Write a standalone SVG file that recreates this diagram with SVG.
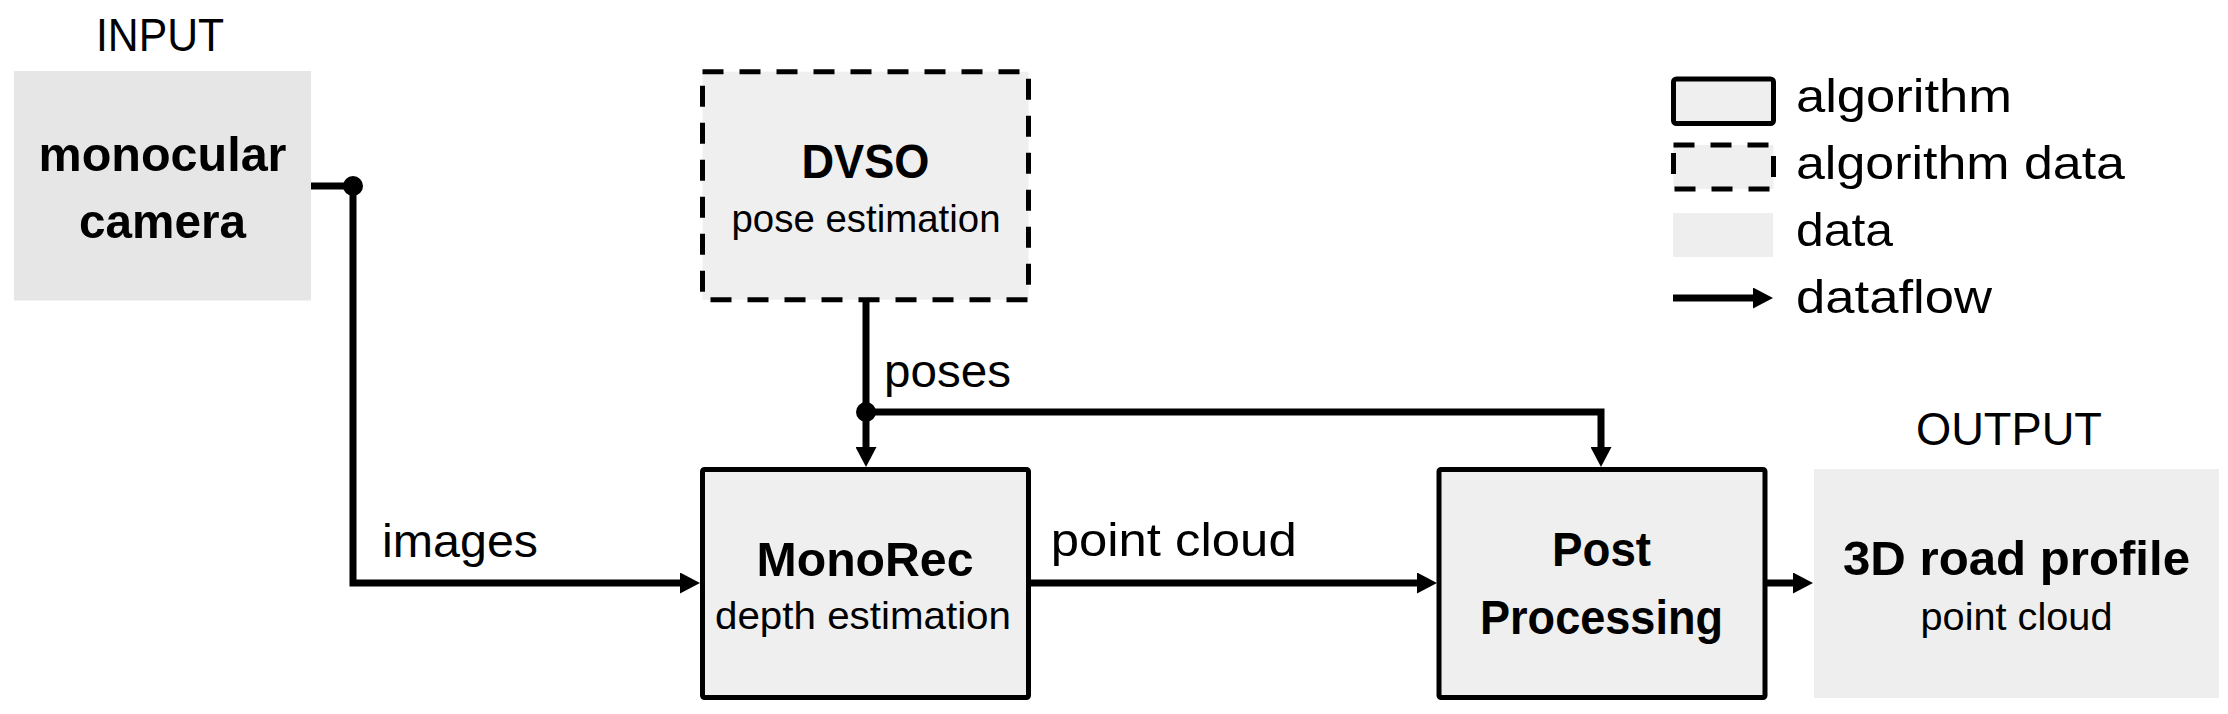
<svg xmlns="http://www.w3.org/2000/svg" width="2228" height="714" viewBox="0 0 2228 714">
<style>
.t{font-family:"Liberation Sans",Arial,sans-serif;fill:#000}
.r{font-size:47px}
.b{font-size:49px;font-weight:bold}
.s{font-size:39px}
.m{text-anchor:middle}
.alg{fill:#efefef;stroke:#000;stroke-width:5}
.dash{fill:#efefef;stroke:#000;stroke-width:5;stroke-dasharray:21 16}
.data{fill:#eeeeee;stroke:none}
.con{fill:none;stroke:#000;stroke-width:7;stroke-linejoin:miter}
</style>
<defs>
<marker id="ah" markerUnits="userSpaceOnUse" markerWidth="20" markerHeight="21" refX="0" refY="10.5" orient="auto">
<path d="M0,0 L20,10.5 L0,21 z" fill="#000"/>
</marker>
</defs>
<rect width="2228" height="714" fill="#fff"/>

<g id="input-label"><text class="t r m" x="160" y="51" textLength="128" lengthAdjust="spacingAndGlyphs">INPUT</text></g>

<g id="camera">
<rect x="14" y="71" width="297" height="229.5" fill="#e6e6e6"/>
<text class="t b m" x="162.5" y="170.5" textLength="248" lengthAdjust="spacingAndGlyphs">monocular</text>
<text class="t b m" x="162.5" y="238" textLength="167" lengthAdjust="spacingAndGlyphs">camera</text>
</g>

<g id="dvso">
<rect class="dash" x="702.5" y="71.7" width="326" height="228"/>
<text class="t b m" x="865.5" y="177.5" textLength="128" lengthAdjust="spacingAndGlyphs">DVSO</text>
<text class="t s m" x="866" y="232" textLength="269" lengthAdjust="spacingAndGlyphs">pose estimation</text>
</g>

<g id="monorec">
<rect class="alg" x="702.5" y="469.5" width="326" height="228" rx="2"/>
<text class="t b m" x="865" y="576" textLength="217" lengthAdjust="spacingAndGlyphs">MonoRec</text>
<text class="t s m" x="863" y="629" textLength="296" lengthAdjust="spacingAndGlyphs">depth estimation</text>
</g>

<g id="postprocessing">
<rect class="alg" x="1439" y="469.5" width="326" height="228" rx="2"/>
<text class="t b m" x="1601.5" y="566" textLength="99" lengthAdjust="spacingAndGlyphs">Post</text>
<text class="t b m" x="1601.5" y="634" textLength="243" lengthAdjust="spacingAndGlyphs">Processing</text>
</g>

<g id="output">
<text class="t r m" x="2009" y="445" textLength="186" lengthAdjust="spacingAndGlyphs">OUTPUT</text>
<rect class="data" x="1814" y="469" width="405" height="229"/>
<text class="t b m" x="2016.5" y="575" textLength="347" lengthAdjust="spacingAndGlyphs">3D road profile</text>
<text class="t s m" x="2016.5" y="630" textLength="192" lengthAdjust="spacingAndGlyphs">point cloud</text>
</g>

<g id="connectors">
<path class="con" d="M311,186 H353 V583 H680" marker-end="url(#ah)"/>
<circle cx="353" cy="186" r="10" fill="#000"/>
<path class="con" d="M866,300 V447" marker-end="url(#ah)"/>
<path class="con" d="M866,412 H1601 V447" marker-end="url(#ah)"/>
<circle cx="866" cy="412" r="10" fill="#000"/>
<path class="con" d="M1031,583 H1417" marker-end="url(#ah)"/>
<path class="con" d="M1767,583 H1793" marker-end="url(#ah)"/>
<text class="t r" x="884" y="387" textLength="127" lengthAdjust="spacingAndGlyphs">poses</text>
<text class="t r" x="382" y="557" textLength="156" lengthAdjust="spacingAndGlyphs">images</text>
<text class="t r" x="1050.7" y="556" textLength="246" lengthAdjust="spacingAndGlyphs">point cloud</text>
</g>

<g id="legend">
<rect class="alg" x="1673.5" y="79" width="100" height="44.5" rx="3"/>
<text class="t r" x="1796" y="112" textLength="216" lengthAdjust="spacingAndGlyphs">algorithm</text>
<rect class="dash" x="1673.5" y="145" width="100" height="44"/>
<text class="t r" x="1796" y="178.5" textLength="329" lengthAdjust="spacingAndGlyphs">algorithm data</text>
<rect class="data" x="1673" y="213" width="100" height="44" fill="#efefef"/>
<text class="t r" x="1796" y="246" textLength="97" lengthAdjust="spacingAndGlyphs">data</text>
<path class="con" d="M1673,298 H1753" stroke-width="8" marker-end="url(#ah)"/>
<text class="t r" x="1796" y="313" textLength="196" lengthAdjust="spacingAndGlyphs">dataflow</text>
</g>
</svg>
